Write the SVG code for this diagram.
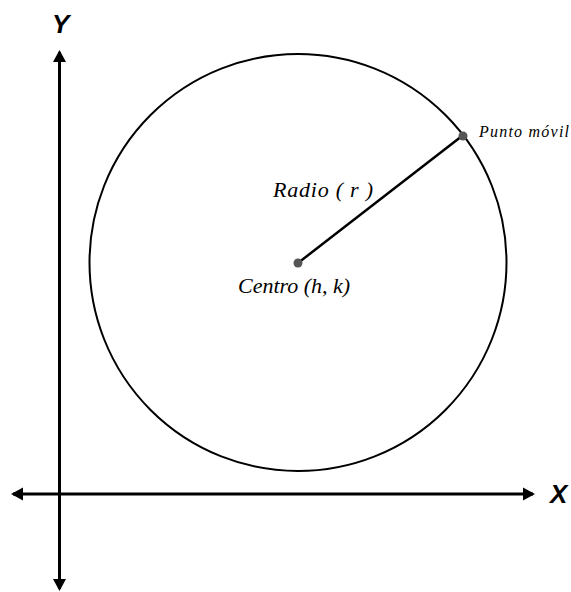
<svg xmlns="http://www.w3.org/2000/svg" width="571" height="592" viewBox="0 0 571 592">
<style>
.axis{stroke:#000;stroke-width:3;fill:none}
.lbl{font-family:"Liberation Serif","Times New Roman",serif;font-style:italic;fill:#000}
.ax{font-family:"Liberation Sans",Arial,sans-serif;font-weight:bold;font-style:italic;font-size:26px;fill:#000}
.pt{fill:#555}
</style>
<defs>
<marker id="ah" markerUnits="userSpaceOnUse" markerWidth="14" markerHeight="14" refX="10" refY="7" orient="auto-start-reverse">
<path d="M0,0.5 L12,7 L0,13.5 Z" fill="#000"/>
</marker>
</defs>
<rect width="571" height="592" fill="#fff"/>
<g id="connectors">
<line class="axis" x1="59.5" y1="589" x2="59.5" y2="52" marker-start="url(#ah)" marker-end="url(#ah)"/>
<line class="axis" x1="13" y1="494" x2="533" y2="494" marker-start="url(#ah)" marker-end="url(#ah)"/>
<line x1="298" y1="263" x2="462" y2="136" stroke="#000" stroke-width="2.5"/>
</g>
<g id="circle">
<circle cx="298" cy="262.5" r="208.5" fill="none" stroke="#000" stroke-width="2"/>
</g>
<g id="axis-y-label"><text class="ax" x="52" y="33">Y</text></g>
<g id="axis-x-label"><text class="ax" x="550" y="503">X</text></g>
<g id="centro">
<circle class="pt" cx="298" cy="263" r="4.5"/>
<text class="lbl" x="238" y="293" font-size="22" textLength="112" lengthAdjust="spacing">Centro (h, k)</text>
</g>
<g id="radio"><text class="lbl" x="273" y="197" font-size="22" textLength="100" lengthAdjust="spacing">Radio ( r )</text></g>
<g id="punto">
<circle class="pt" cx="463" cy="136" r="4.5"/>
<text class="lbl" x="479" y="137" font-size="16" textLength="90" lengthAdjust="spacing">Punto móvil</text>
</g>
</svg>
